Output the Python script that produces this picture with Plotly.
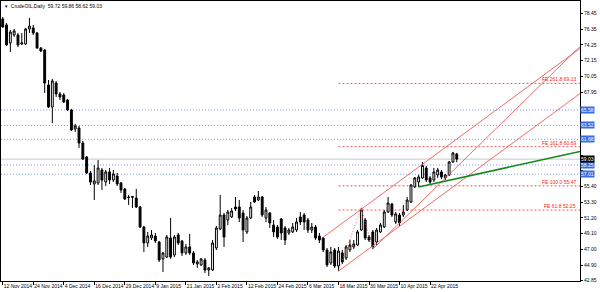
import plotly.graph_objects as go
import numpy as np

# ---------------- data ----------------
tick_idx = [0, 8, 16, 24, 32, 40, 48, 56, 64, 72, 80, 88, 96, 104, 112]
tick_text = ["12 Nov 2014", "24 Nov 2014", "4 Dec 2014", "16 Dec 2014", "29 Dec 2014",
             "9 Jan 2015", "21 Jan 2015", "2 Feb 2015", "12 Feb 2015", "24 Feb 2015",
             "6 Mar 2015", "18 Mar 2015", "30 Mar 2015", "10 Apr 2015", "22 Apr 2015"]

opens = [77.72, 76.92, 74.52, 75.58, 75.58, 74.38, 74.38, 76.38, 76.52, 75.85,
         73.85, 73.58, 68.92, 65.98, 69.18, 67.72, 67.58, 66.92, 65.58, 63.05,
         63.18, 61.18, 59.32, 57.18, 55.72, 55.85, 57.58, 55.98, 57.32, 56.25,
         56.78, 55.85, 55.05, 53.98, 53.92, 53.85, 52.65, 49.98, 47.85, 48.52,
         48.78, 47.98, 45.72, 45.98, 48.52, 46.25, 48.92, 48.12, 46.52, 47.32,
         46.52, 45.05, 44.92, 45.58, 44.25, 44.25, 47.18, 49.72, 51.58, 50.92,
         51.32, 52.65, 52.65, 51.85, 49.32, 51.18, 53.98, 53.58, 53.98, 51.18,
         51.85, 50.25, 49.98, 51.05, 49.85, 49.18, 49.32, 49.58, 51.32, 51.58,
         50.92, 49.58, 49.98, 48.78, 48.52, 46.92, 45.18, 46.92, 44.78, 46.52,
         45.85, 46.92, 47.32, 47.58, 49.58, 50.92, 48.65, 49.32, 47.98, 49.32,
         49.98, 51.98, 53.05, 50.65, 51.58, 51.58, 52.25, 53.32, 55.32, 55.98,
         56.52, 57.85, 56.52, 56.25, 56.92, 57.32, 56.52, 56.92, 58.65, 59.72]
highs = [77.98, 77.18, 76.25, 76.38, 75.85, 75.85, 76.52, 77.85, 76.92, 75.98,
         73.98, 73.72, 69.58, 69.72, 69.45, 67.98, 67.85, 67.05, 65.72, 63.72,
         63.45, 61.45, 59.45, 57.45, 58.25, 58.92, 57.85, 57.58, 57.85, 57.58,
         57.18, 55.98, 55.18, 54.25, 53.98, 55.05, 52.78, 50.12, 49.32, 49.58,
         49.18, 48.12, 46.65, 48.92, 51.18, 48.92, 49.18, 48.25, 47.72, 49.05,
         46.78, 45.58, 45.85, 45.85, 44.65, 48.25, 50.12, 54.25, 51.85, 52.25,
         52.52, 53.98, 53.58, 52.25, 51.45, 53.32, 54.25, 54.78, 54.12, 52.65,
         51.98, 50.92, 50.25, 51.18, 50.12, 49.85, 50.52, 51.18, 51.98, 51.85,
         51.18, 50.52, 50.25, 49.18, 48.62, 47.18, 47.32, 47.18, 47.32, 46.92,
         47.58, 48.25, 48.25, 49.58, 52.54, 51.18, 48.92, 49.58, 49.85, 50.52,
         52.25, 53.98, 53.18, 51.98, 51.85, 52.92, 53.98, 55.72, 56.65, 56.92,
         58.65, 58.12, 56.78, 57.85, 57.85, 57.58, 57.05, 58.78, 59.98, 59.86]
lows = [76.52, 74.12, 73.32, 75.32, 73.98, 74.25, 74.25, 75.85, 75.58, 73.72,
        73.32, 67.85, 65.85, 63.85, 67.32, 66.92, 66.52, 65.45, 62.78, 62.65,
        60.52, 58.92, 57.05, 55.58, 53.58, 55.58, 54.92, 55.45, 55.72, 55.98,
        55.45, 54.52, 53.58, 52.92, 52.52, 52.52, 49.85, 46.65, 47.32, 48.25,
        47.85, 45.32, 43.98, 45.85, 45.72, 45.98, 47.58, 46.12, 46.25, 46.25,
        44.92, 44.52, 44.78, 43.85, 43.45, 44.12, 46.92, 49.58, 47.32, 50.25,
        51.18, 52.12, 50.65, 47.98, 49.05, 51.05, 53.18, 53.45, 51.32, 50.65,
        49.85, 48.65, 48.38, 48.25, 47.58, 48.92, 49.18, 49.32, 50.25, 49.58,
        49.18, 49.18, 48.25, 47.85, 46.65, 44.65, 44.92, 44.52, 44.10, 45.05,
        45.58, 46.65, 47.05, 47.45, 49.45, 48.25, 47.98, 47.03, 47.58, 49.18,
        49.85, 51.85, 51.32, 50.38, 50.12, 51.32, 52.12, 53.18, 55.18, 55.32,
        56.38, 55.98, 55.72, 55.98, 56.52, 56.38, 56.25, 56.78, 58.52, 58.62]
closes = [76.65, 74.25, 75.98, 76.12, 74.25, 74.52, 76.38, 76.78, 75.85, 73.85,
          73.45, 69.18, 65.98, 69.45, 67.72, 67.32, 66.65, 65.58, 62.92, 63.45,
          61.18, 59.05, 57.18, 55.98, 56.12, 57.85, 56.25, 57.32, 56.25, 57.05,
          55.72, 54.92, 53.72, 53.92, 54.05, 52.65, 49.98, 47.85, 48.78, 48.92,
          48.12, 45.58, 46.52, 48.65, 45.98, 48.65, 47.85, 46.52, 47.32, 46.52,
          45.18, 45.32, 45.72, 44.25, 44.52, 47.85, 49.85, 51.58, 48.65, 51.98,
          52.12, 52.38, 51.18, 49.58, 51.18, 52.65, 53.32, 53.98, 51.58, 52.25,
          50.52, 49.32, 48.65, 49.18, 48.25, 49.58, 49.98, 50.65, 50.65, 50.65,
          49.58, 49.98, 48.52, 48.25, 46.92, 44.92, 46.65, 44.78, 46.78, 45.32,
          47.32, 47.58, 47.72, 49.32, 52.25, 48.52, 48.25, 47.32, 49.58, 50.25,
          51.98, 53.18, 51.58, 51.72, 50.52, 51.98, 53.58, 55.58, 56.52, 56.65,
          58.18, 56.25, 55.98, 57.32, 57.58, 56.65, 56.92, 58.65, 59.85, 59.03]

# horizontal support / resistance levels (blue dotted)
blue_levels = [65.58, 63.52, 61.68, 58.25, 57.01]
bid_price = 59.03

# Fibonacci expansion anchor points (bar index, price)
fe_a = (88, 44.10)
fe_b = (94, 52.54)
fe_c = (97, 47.03)
fe_ratios = [0.618, 1.0, 1.618, 2.618]

# trend lines: two anchor points each (bar index, price)
upper_channel = [(84, 48.62), (94, 52.36)]
lower_channel_anchor = (88, 44.10)
steep_line = [(97, 47.03), (110, 53.50)]
green_line = [(109, 55.32), (119, 56.44)]

X_MIN, X_MAX = -0.45, 151.3
Y_MIN, Y_MAX = 42.78, 80.113
y_tickvals = [78.45, 76.35, 74.25, 72.15, 70.05, 67.95, 65.85, 63.75, 61.65, 59.55,
              57.45, 55.40, 53.30, 51.20, 49.10, 47.00, 44.90, 42.85]

# ---------------- figure ----------------
bars = list(range(len(opens)))
fig = go.Figure()
fig.add_trace(go.Candlestick(
    x=bars, open=opens, high=highs, low=lows, close=closes,
    increasing=dict(line=dict(color="black", width=1), fillcolor="white"),
    decreasing=dict(line=dict(color="black", width=1), fillcolor="black"),
    whiskerwidth=0, showlegend=False, hoverinfo="skip"))

def ray(p0, p1, x_end):
    (x0, y0), (x1, y1) = p0, p1
    slope = (y1 - y0) / (x1 - x0)
    return [x0, x_end], [y0, y0 + slope * (x_end - x0)]

red = "#f05a5a"
ux, uy = ray(upper_channel[0], upper_channel[1], X_MAX)
fig.add_trace(go.Scatter(x=ux, y=uy, mode="lines", line=dict(color=red, width=0.9),
                         showlegend=False, hoverinfo="skip"))
slope_u = (upper_channel[1][1] - upper_channel[0][1]) / (upper_channel[1][0] - upper_channel[0][0])
lx = [lower_channel_anchor[0], X_MAX]
ly = [lower_channel_anchor[1], lower_channel_anchor[1] + slope_u * (X_MAX - lower_channel_anchor[0])]
fig.add_trace(go.Scatter(x=lx, y=ly, mode="lines", line=dict(color=red, width=0.9),
                         showlegend=False, hoverinfo="skip"))
sx, sy = ray(steep_line[0], steep_line[1], X_MAX)
fig.add_trace(go.Scatter(x=sx, y=sy, mode="lines", line=dict(color=red, width=0.9),
                         showlegend=False, hoverinfo="skip"))
fig.add_trace(go.Scatter(x=[fe_a[0], fe_b[0], fe_c[0]], y=[fe_a[1], fe_b[1], fe_c[1]],
                         mode="lines", line=dict(color=red, width=0.9, dash="1px,2px"),
                         showlegend=False, hoverinfo="skip"))
gx, gy = ray(green_line[0], green_line[1], X_MAX)
fig.add_trace(go.Scatter(x=gx, y=gy, mode="lines", line=dict(color="#12881a", width=1.6),
                         showlegend=False, hoverinfo="skip"))

shapes = []
for lv in blue_levels:
    shapes.append(dict(type="line", xref="paper", x0=0, x1=1, yref="y", y0=lv, y1=lv,
                       line=dict(color="#7f9cf0", width=1, dash="1px,2px"), layer="below"))
shapes.append(dict(type="line", xref="paper", x0=0, x1=1, yref="y", y0=bid_price, y1=bid_price,
                   line=dict(color="#c8c8c8", width=1), layer="below"))
annotations = []
fe_range = fe_b[1] - fe_a[1]
for r in fe_ratios:
    lv = fe_c[1] + r * fe_range
    shapes.append(dict(type="line", xref="x", x0=fe_a[0], x1=X_MAX, yref="y", y0=lv, y1=lv,
                       line=dict(color=red, width=1, dash="2px,2px"), layer="below"))
    annotations.append(dict(xref="x", x=X_MAX - 0.5, yref="y", y=lv, xanchor="right", yanchor="bottom",
                            text=f"FE {r*100:.1f} {lv:.2f}", showarrow=False,
                            font=dict(family="Liberation Sans", size=5, color="#ff2020"), yshift=-1))

box_levels = blue_levels + [bid_price]
for lv in blue_levels:
    annotations.append(dict(xref="paper", x=1, yref="y", y=lv, xanchor="left", yanchor="middle",
                            text=f"{lv:.2f}", showarrow=False, bgcolor="#3a6be0", borderpad=0,
                            font=dict(family="Liberation Sans", size=5, color="white")))
annotations.append(dict(xref="paper", x=1, yref="y", y=bid_price, xanchor="left", yanchor="middle",
                        text=f"{bid_price:.2f}", showarrow=False, bgcolor="black", borderpad=0,
                        font=dict(family="Liberation Sans", size=5, color="white")))
annotations.append(dict(xref="paper", x=0.004, yref="paper", y=0.982, xanchor="left", yanchor="middle",
                        text="▾  CrudeOIL,Daily  %.2f %.2f %.2f %.2f" % (opens[-1], highs[-1], lows[-1], closes[-1]),
                        showarrow=False, font=dict(family="Liberation Sans", size=5, color="black")))

# regular axis labels hidden behind the coloured price boxes
y_ticktext = ["" if min(abs(v - b) for b in box_levels) < 0.9 else f"{v:.2f}" for v in y_tickvals]

fig.update_layout(
    width=600, height=292, margin=dict(l=1, r=20, t=1, b=11),
    paper_bgcolor="white", plot_bgcolor="white",
    shapes=shapes, annotations=annotations, showlegend=False,
    xaxis=dict(range=[X_MIN, X_MAX], rangeslider=dict(visible=False), showgrid=False, zeroline=False,
               tickmode="array", tickvals=tick_idx, ticktext=tick_text, tickangle=0,
               ticklabelposition="outside right", ticks="outside", ticklen=3, tickcolor="black",
               showline=True, linecolor="black", linewidth=1, mirror=True,
               tickfont=dict(family="Liberation Sans", size=5, color="black")),
    yaxis=dict(range=[Y_MIN, Y_MAX], side="right", showgrid=False, zeroline=False,
               tickmode="array", tickvals=y_tickvals, ticktext=y_ticktext,
               ticks="outside", ticklen=2, tickcolor="black",
               showline=True, linecolor="black", linewidth=1, mirror=True,
               tickfont=dict(family="Liberation Sans", size=5, color="black")),
)
fig.write_html("out.html")
